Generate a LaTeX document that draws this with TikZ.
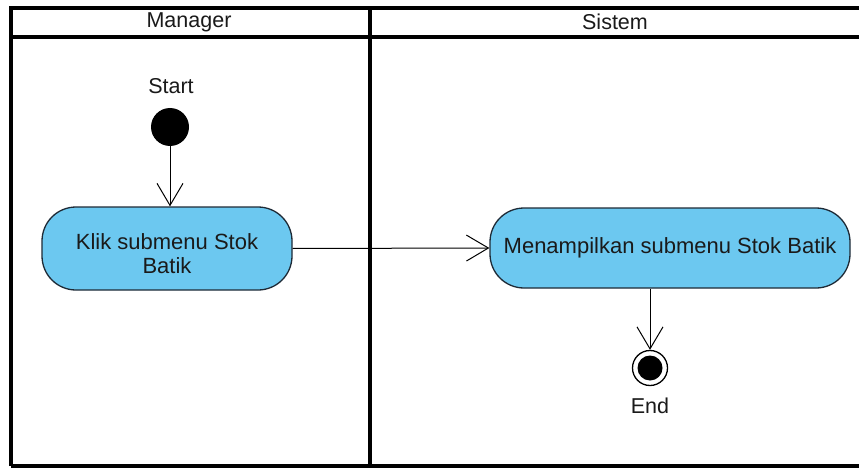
\documentclass[tikz,border=0pt]{standalone}
\usepackage{fontspec}
\setmainfont{Liberation Sans}
\usetikzlibrary{arrows.meta}
\definecolor{actfill}{HTML}{6CC8F0}
\definecolor{actline}{HTML}{1E2A36}
\definecolor{txt}{HTML}{1A1A1A}
\tikzset{
  lane/.style={line width=3.4pt, black},
  lanetitle/.style={font=\fontsize{21.5}{24}\selectfont, text=txt, inner sep=0pt},
  action/.style={draw=actline, line width=1.3pt, fill=actfill, rounded corners=34pt,
    align=center, text=txt, font=\fontsize{22}{24}\selectfont, inner sep=0pt},
  initial/.style={circle, fill=black, minimum size=38pt, inner sep=0pt},
  final/.style={circle, draw=black, line width=1.3pt, fill=white, minimum size=35pt, inner sep=0pt},
  label/.style={font=\fontsize{21.5}{24}\selectfont, text=txt, inner sep=0pt},
  flow/.style={line width=1pt, -{Straight Barb[length=22pt,width=26pt,line width=1pt]}}
}
\begin{document}
\begin{tikzpicture}[x=1pt,y=-1pt]
\useasboundingbox (0,0) rectangle (859,468);
\fill[white] (0,0) rectangle (859,468);
% swimlane frame
\begin{scope}
\clip (0,0) rectangle (859,468);
\draw[lane] (11,466) -- (11,8) -- (880,8);
\draw[lane] (11,37) -- (880,37);
\draw[lane] (370,8) -- (370,466);
\draw[lane] (11,466) -- (880,466);
\end{scope}
\node[lanetitle] (mgr) at (189,22) {Manager};
\node[lanetitle] (sys) at (615,22) {Sistem};
% initial node
\node[label] (startlbl) at (171,86) {Start};
\node[initial] (start) at (170,127) {};
% actions
\node[action, minimum width=250pt, minimum height=83pt] (klik) at (167,248.5)
  {\rule{0pt}{26pt}Klik submenu Stok\\Batik};
\node[action, minimum width=360pt, minimum height=80pt] (tampil) at (670,248)
  {Menampilkan submenu Stok Batik};
% final node
\node[final] (end) at (650,368) {};
\fill (end.center) circle (12.5pt);
\node[label] (endlbl) at (650,406) {End};
% flows
\draw[flow] (start) -- (start |- klik.north);
\draw[flow] (klik.east) -- (tampil.west);
\draw[flow] (tampil.south -| end) -- (end);
\end{tikzpicture}
\end{document}
